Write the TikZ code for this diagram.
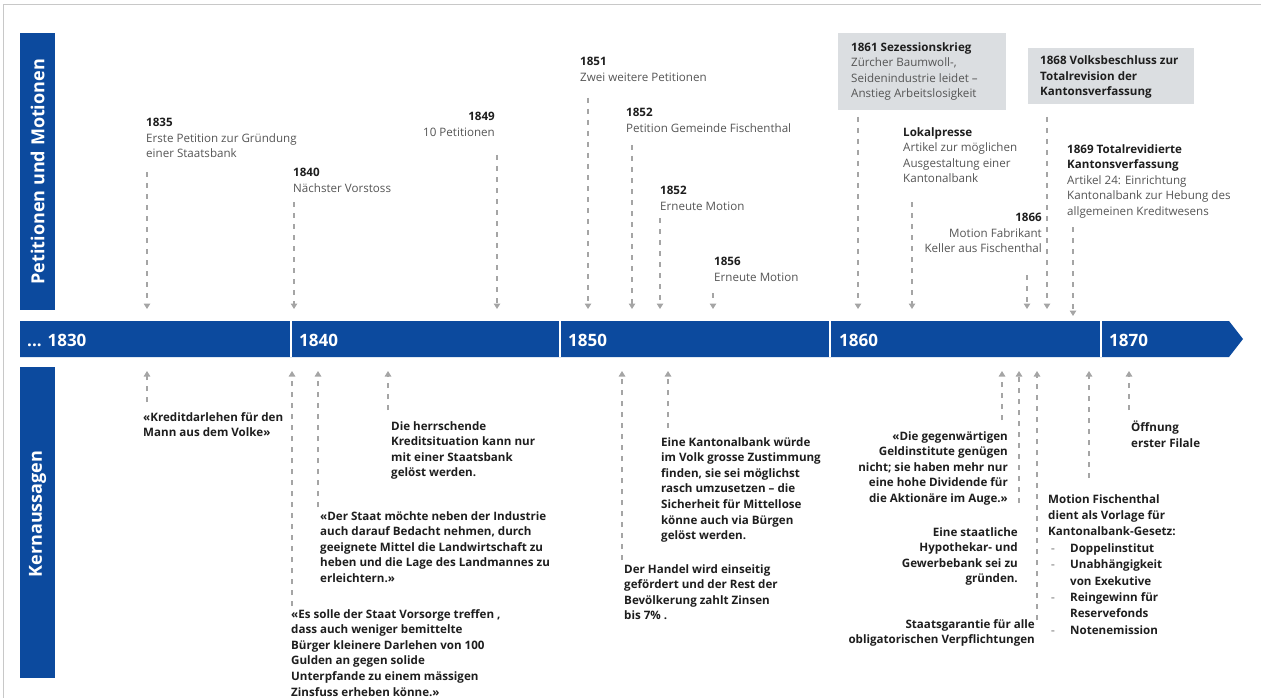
\documentclass[tikz,border=0pt]{standalone}
\usepackage{fontspec}
\setmainfont{Open Sans}
\usetikzlibrary{arrows.meta}
\definecolor{zkbblue}{RGB}{12,74,158}
\definecolor{boxgrey}{RGB}{219,222,225}
\definecolor{arrgrey}{RGB}{165,165,165}
\definecolor{txtgrey}{RGB}{85,85,85}
\definecolor{inkdark}{RGB}{30,30,30}
\definecolor{framegrey}{RGB}{200,200,200}
\newcommand{\yr}[1]{{\bfseries\color{inkdark}#1}}
\newcommand{\lstitem}[1]{\hspace*{3pt}\makebox[19pt][l]{\color{arrgrey}-}#1}
\newcommand{\lstcont}[1]{\hspace*{22pt}#1}
\begin{document}
\begin{tikzpicture}[x=1pt,y=-1pt,
  toptxt/.style={inner sep=0pt, align=left, text=txtgrey, font=\fontsize{11.6}{15.5}\selectfont},
  toptxtr/.style={toptxt, align=right},
  kern/.style={inner sep=0pt, align=left, text=inkdark, font=\bfseries\fontsize{11.6}{15.6}\selectfont},
  kernr/.style={kern, align=right},
  conn/.style={draw=arrgrey, line width=1.1pt, dash pattern=on 5pt off 6pt,
    -{Triangle[width=6.5pt,length=5.5pt]}},
  sidebar/.style={fill=zkbblue, inner sep=0pt, minimum width=35pt, anchor=north west},
  sidelabel/.style={text=white, font=\bfseries\fontsize{18}{20}\selectfont, rotate=90, inner sep=0pt},
  yearlabel/.style={text=white, font=\bfseries\fontsize{17}{19}\selectfont, inner sep=0pt, anchor=west},
  greybox/.style={fill=boxgrey, inner sep=0pt, anchor=north west},
  sep/.style={draw=white, line width=1.5pt}
]
\useasboundingbox (0,0) rectangle (1261,698);
\fill[white] (0,0) rectangle (1261,698);
% frame
\draw[framegrey, line width=1pt] (3,698) -- (3,5) -- (1261,5);

% side bars
\node[sidebar, minimum height=277pt] (petbar) at (20,33) {};
\node[sidelabel] (petlabel) at (petbar.center) {Petitionen und Motionen};
\node[sidebar, minimum height=311pt] (kernbar) at (20,367) {};
\node[sidelabel] (kernlabel) at (37.5,514) {Kernaussagen};

% timeline
\fill[zkbblue] (20,321) -- (1229,321) -- (1243,339) -- (1229,357) -- (20,357) -- cycle;
\draw[sep] (291,321) -- (291,357);
\draw[sep] (560,321) -- (560,357);
\draw[sep] (830,321) -- (830,357);
\draw[sep] (1101,321) -- (1101,357);
\node[yearlabel] (y1830) at (27,340) {... 1830};
\node[yearlabel] (y1840) at (299,340) {1840};
\node[yearlabel] (y1850) at (568,340) {1850};
\node[yearlabel] (y1860) at (839,340) {1860};
\node[yearlabel] (y1870) at (1109,340) {1870};

% grey boxes
\node[greybox, minimum width=168pt, minimum height=77pt] (box1861) at (838,33) {};
\node[greybox, minimum width=166pt, minimum height=56pt] (box1868) at (1028,48) {};

% top texts
\node[toptxt, anchor=north west] (t1835) at (146,118) {\yr{1835}\\Erste Petition zur Gründung\\einer Staatsbank};
\node[toptxt, anchor=north west] (t1840) at (293,168) {\yr{1840}\\Nächster Vorstoss};
\node[toptxtr, anchor=north east] (t1849) at (495,112) {\yr{1849}\\10 Petitionen};
\node[toptxt, anchor=north west] (t1851) at (580,57) {\yr{1851}\\Zwei weitere Petitionen};
\node[toptxt, anchor=north west] (t1852a) at (626,108) {\yr{1852}\\Petition Gemeinde Fischenthal};
\node[toptxt, anchor=north west] (t1852b) at (660,186) {\yr{1852}\\Erneute Motion};
\node[toptxt, anchor=north west] (t1856) at (714,257) {\yr{1856}\\Erneute Motion};
\node[toptxt, anchor=west] (t1861) at (851,71.5) {\yr{1861 Sezessionskrieg}\\Zürcher Baumwoll-,\\Seidenindustrie leidet –\\Anstieg Arbeitslosigkeit};
\node[toptxt, anchor=north west] (tlokal) at (903,127) {\yr{Lokalpresse}\\Artikel zur möglichen\\Ausgestaltung einer\\Kantonalbank};
\node[toptxtr, anchor=north east] (t1866) at (1042,213) {\yr{1866}\\Motion Fabrikant\\Keller aus Fischenthal};
\node[toptxt, anchor=west] (t1868) at (1040,77) {\yr{1868 Volksbeschluss zur}\\\yr{Totalrevision der}\\\yr{Kantonsverfassung}};
\node[toptxt, anchor=north west] (t1869) at (1067,144) {\yr{1869 Totalrevidierte}\\\yr{Kantonsverfassung}\\Artikel 24: Einrichtung\\Kantonalbank zur Hebung des\\allgemeinen Kreditwesens};

% top connectors
\coordinate (a1s) at (147,172);  \coordinate (a1e) at (147,309);
\coordinate (a2s) at (294,202);  \coordinate (a2e) at (294,309);
\coordinate (a3s) at (497,155);  \coordinate (a3e) at (497,309);
\coordinate (a4s) at (588,98);   \coordinate (a4e) at (588,309);
\coordinate (a5s) at (632,145);  \coordinate (a5e) at (632,309);
\coordinate (a6s) at (660,218);  \coordinate (a6e) at (660,309);
\coordinate (a7s) at (713,293);  \coordinate (a7e) at (713,309);
\coordinate (a8s) at (858,117);  \coordinate (a8e) at (858,309);
\coordinate (a9s) at (912,202);  \coordinate (a9e) at (912,309);
\coordinate (a10s) at (1027,275); \coordinate (a10e) at (1027,309);
\coordinate (a11s) at (1047,117); \coordinate (a11e) at (1047,309);
\coordinate (a12s) at (1073,227); \coordinate (a12e) at (1073,316);
\foreach \i in {1,...,12} { \draw[conn] (a\i s) -- (a\i e); }

% bottom texts
\node[kern, anchor=north west] (k1) at (143,412) {«Kreditdarlehen für den\\Mann aus dem Volke»};
\node[kern, anchor=north west] (k2) at (291,609) {«Es solle der Staat Vorsorge treffen ,\\dass auch weniger bemittelte\\Bürger kleinere Darlehen von 100\\Gulden an gegen solide\\Unterpfande zu einem mässigen\\Zinsfuss erheben könne.»};
\node[kern, anchor=north west] (k3) at (320,511) {«Der Staat möchte neben der Industrie\\auch darauf Bedacht nehmen, durch\\geeignete Mittel die Landwirtschaft zu\\heben und die Lage des Landmannes zu\\erleichtern.»};
\node[kern, anchor=north west] (k4) at (391,421) {Die herrschende\\Kreditsituation kann nur\\mit einer Staatsbank\\gelöst werden.};
\node[kern, anchor=north west] (k5) at (624,564) {Der Handel wird einseitig\\gefördert und der Rest der\\Bevölkerung zahlt Zinsen\\bis 7\% .};
\node[kern, anchor=north west] (k6) at (661,437) {Eine Kantonalbank würde\\im Volk grosse Zustimmung\\finden, sie sei möglichst\\rasch umzusetzen – die\\Sicherheit für Mittellose\\könne auch via Bürgen\\gelöst werden.};
\node[kernr, anchor=north east] (k7) at (1008,431) {«Die gegenwärtigen\\Geldinstitute genügen\\nicht; sie haben mehr nur\\eine hohe Dividende für\\die Aktionäre im Auge.»};
\node[kernr, anchor=north east] (k8) at (1018,527) {Eine staatliche\\Hypothekar- und\\Gewerbebank sei zu\\gründen.};
\node[kernr, anchor=north east] (k9) at (1035,619) {Staatsgarantie für alle\\obligatorischen Verpflichtungen};
\node[kern, anchor=north west, font=\bfseries\fontsize{11.6}{16.4}\selectfont] (k10) at (1048,494) {Motion Fischenthal\\dient als Vorlage für\\Kantonalbank-Gesetz:\\\lstitem{Doppelinstitut}\\\lstitem{Unabhängigkeit}\\\lstcont{von Exekutive}\\\lstitem{Reingewinn für}\\\lstcont{Reservefonds}\\\lstitem{Notenemission}};
\node[kern, anchor=north west] (k11) at (1131,421) {Öffnung\\erster Filale};

% bottom connectors
\coordinate (b1s) at (147,402);  \coordinate (b1e) at (147,371);
\coordinate (b2s) at (292,606);  \coordinate (b2e) at (292,371);
\coordinate (b3s) at (318,507);  \coordinate (b3e) at (318,371);
\coordinate (b4s) at (388,410);  \coordinate (b4e) at (388,371);
\coordinate (b5s) at (622,560);  \coordinate (b5e) at (622,371);
\coordinate (b6s) at (668,428);  \coordinate (b6e) at (668,371);
\coordinate (b7s) at (1002,420); \coordinate (b7e) at (1002,371);
\coordinate (b8s) at (1019,503); \coordinate (b8e) at (1019,371);
\coordinate (b9s) at (1037,620); \coordinate (b9e) at (1037,371);
\coordinate (b10s) at (1089,478); \coordinate (b10e) at (1089,371);
\coordinate (b11s) at (1129,410); \coordinate (b11e) at (1129,371);
\foreach \i in {1,...,11} { \draw[conn] (b\i s) -- (b\i e); }
\end{tikzpicture}
\end{document}
